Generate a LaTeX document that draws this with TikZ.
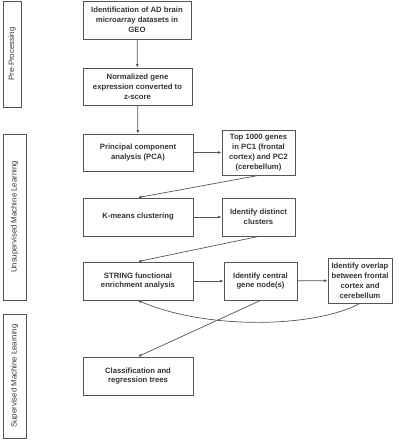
\documentclass[tikz,border=0pt]{standalone}
\usepackage{fontspec}
\setmainfont{Liberation Sans}
\usetikzlibrary{positioning,arrows.meta}

\definecolor{boxline}{HTML}{555555}
\definecolor{boxtext}{HTML}{333333}

\tikzset{
  stepbox/.style = {draw = boxline, line width = 0.9pt, shape = rectangle, align = center,
                    text = boxtext, font = \fontsize{7.7}{9.9}\selectfont\bfseries, inner sep = 1pt},
  phase/.style = {draw = boxline, line width = 0.9pt, shape = rectangle, text = boxtext,
                  font = \fontsize{7.8}{9}\selectfont, inner sep = 0pt},
  flow/.style = {draw = boxline, line width = 0.7pt, -{Latex[length = 3.5pt, width = 3pt]}}
}

\begin{document}
\begin{tikzpicture}[x = 1pt, y = -1pt]
\useasboundingbox (0,0) rectangle (403,440);

% phases on the left
\node[phase, minimum width = 106pt, minimum height = 18pt, rotate = 90] (pre) at (12,54) {Pre-Processing};
\node[phase, minimum width = 166pt, minimum height = 23pt, rotate = 90] (unsup) at (14.5,217) {Unsupervised Machine Learning};
\node[phase, minimum width = 124pt, minimum height = 23pt, rotate = 90] (sup) at (14.5,376) {Supervised Machine Learning};

% steps
\node[stepbox, minimum width = 108pt, minimum height = 38pt] (geo) at (137,20) {Identification of AD brain\\ microarray datasets in\\ GEO};
\node[stepbox, minimum width = 109pt, minimum height = 37pt] (norm) at (137.5,86.5) {Normalized gene\\ expression converted to\\ z-score};
\node[stepbox, minimum width = 110pt, minimum height = 37pt] (pca) at (138,152.5) {Principal component\\ analysis (PCA)};
\node[stepbox, minimum width = 73pt, minimum height = 45pt] (top) at (258.5,152.5) {Top 1000 genes\\ in PC1 (frontal\\ cortex) and PC2\\ (cerebellum)};
\node[stepbox, minimum width = 110pt, minimum height = 38pt] (kmeans) at (138,217) {K-means clustering};
\node[stepbox, minimum width = 73pt, minimum height = 38pt] (clust) at (258.5,217) {Identify distinct\\ clusters};
\node[stepbox, minimum width = 110pt, minimum height = 38pt] (string) at (138,281) {STRING functional\\ enrichment analysis};
\node[stepbox, minimum width = 73pt, minimum height = 38pt] (hub) at (260.5,281) {Identify central\\ gene node(s)};
\node[stepbox, minimum width = 64pt, minimum height = 45pt] (overlap) at (360,280.5) {Identify overlap\\ between frontal\\ cortex and\\ cerebellum};
\node[stepbox, minimum width = 110pt, minimum height = 38pt] (cart) at (138,376) {Classification and\\ regression trees};

% connectors
\draw[flow] (geo) -- (norm);
\draw[flow] (norm) -- (pca);
\draw[flow] (pca) -- (top);
\draw[flow] (top.south) -- (kmeans.north);
\draw[flow] (kmeans) -- (clust);
\draw[flow] (clust.south) -- (string.north);
\draw[flow] (string) -- (hub);
\draw[flow] (hub) -- (overlap);
\draw[flow] (hub.south) -- (cart.north);
\draw[flow] (overlap.south) .. controls +(-45,24) and +(70,30) .. (string.south);
\end{tikzpicture}
\end{document}
